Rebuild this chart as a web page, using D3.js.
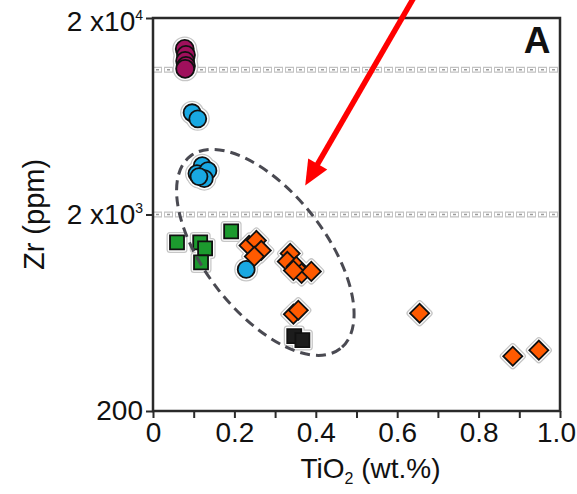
<!DOCTYPE html>
<html><head><meta charset="utf-8">
<script src="https://cdn.jsdelivr.net/npm/d3@7"></script>
<style>
body{margin:0;background:#fff}
svg{display:block;font-family:"Liberation Sans",Arial,Helvetica,sans-serif}
</style>
</head><body>
<svg id="chart" width="577" height="494"></svg>
<script>
// ---- data (TiO2 wt.% vs Zr ppm) ----
const magentaX = [0.078, 0.081, 0.079, 0.081, 0.079];
const magentaY = [13920, 12980, 12090, 11410, 11020];
const blueX = [0.096, 0.110, 0.121, 0.108, 0.135, 0.126, 0.113, 0.229];
const blueY = [6590, 6140, 3546, 3229, 3344, 3045, 3118, 1051];
const greenX = [0.059, 0.116, 0.128, 0.118, 0.192];
const greenY = [1442, 1442, 1344, 1141, 1640];
const blackX = [0.347, 0.367];
const blackY = [481, 459];
const orangeX = [0.236, 0.254, 0.266, 0.249, 0.337, 0.330, 0.352, 0.365, 0.389, 0.345, 0.345, 0.357, 0.655, 0.884, 0.948];
const orangeY = [1392, 1476, 1313, 1224, 1268, 1154, 1089, 1003, 1027, 1039, 622, 651, 629, 380, 408];
const refLines = [10900, 2000];
const xTicks = [0, 0.1, 0.2, 0.3, 0.4, 0.5, 0.6, 0.7, 0.8, 0.9, 1.0];
const xTickLabels = ["0", "", "0.2", "", "0.4", "", "0.6", "", "0.8", "", "1.0"];
const yTicks = [200, 2000, 20000];
const yTickBase = ["200", "2 x10", "2 x10"];
const yTickSup = ["", "3", "4"];
const ellipseCenter = [0.276, 1283];
const arrowFrom = [0.643, 25860];
const arrowTo = [0.374, 2806];
const panelLabel = "A";

// ---- layout ----
const W = 577, H = 494;
const m = {left: 153, top: 18, right: 17, bottom: 83};
const svg = d3.select("#chart");
const x = d3.scaleLinear().domain([0, 1]).range([m.left, W - m.right]);
const y = d3.scaleLog().domain([200, 20000]).range([H - m.bottom, m.top]);

// reference chain lines
refLines.forEach(v => {
  const g = svg.append("g");
  const yy = y(v);
  g.append("line").attr("x1", x(0)).attr("x2", x(1)).attr("y1", yy).attr("y2", yy)
    .attr("stroke", "#c2c2c2").attr("stroke-width", 6).attr("stroke-dasharray", "9 2");
  g.append("line").attr("x1", x(0)).attr("x2", x(1)).attr("y1", yy).attr("y2", yy)
    .attr("stroke", "#fff").attr("stroke-width", 3.5).attr("stroke-dasharray", "7 4").attr("stroke-dashoffset", -1);
  g.append("line").attr("x1", x(0)).attr("x2", x(1)).attr("y1", yy).attr("y2", yy)
    .attr("stroke", "#9a9a9a").attr("stroke-width", 1.6).attr("stroke-dasharray", "3 8").attr("stroke-dashoffset", -3);
});

// groups
const groups = [
  {xs: magentaX, ys: magentaY, shape: "circle", size: 9, fill: "#a0105c"},
  {xs: greenX, ys: greenY, shape: "square", size: 14, fill: "#1c9a2e"},
  {xs: blackX, ys: blackY, shape: "square", size: 14, fill: "#1c1c1c"},
  {xs: blueX, ys: blueY, shape: "circle", size: 8.5, fill: "#19a8e2"},
  {xs: orangeX, ys: orangeY, shape: "diamond", size: 13.5, fill: "#ff5a00"}
];
function pathFor(g) {
  if (g.shape === "circle") return d3.symbol(d3.symbolCircle, Math.PI * g.size * g.size)();
  return d3.symbol(d3.symbolSquare, g.size * g.size)();
}
function rot(g) { return g.shape === "diamond" ? " rotate(45)" : ""; }

const halo1 = svg.append("g"), halo2 = svg.append("g"), marks = svg.append("g");
groups.forEach(g => {
  const pts = g.xs.map((v, i) => [v, g.ys[i]]);
  const p = pathFor(g);
  halo1.selectAll(null).data(pts).enter().append("path").attr("d", p)
    .attr("transform", d => `translate(${x(d[0])},${y(d[1])})${rot(g)}`)
    .attr("fill", "#c6c6c6").attr("stroke", "#c6c6c6").attr("stroke-width", 7).attr("stroke-linejoin", "round");
});
groups.forEach(g => {
  const pts = g.xs.map((v, i) => [v, g.ys[i]]);
  const p = pathFor(g);
  halo2.selectAll(null).data(pts).enter().append("path").attr("d", p)
    .attr("transform", d => `translate(${x(d[0])},${y(d[1])})${rot(g)}`)
    .attr("fill", "#fff").attr("stroke", "#fff").attr("stroke-width", 4.5).attr("stroke-linejoin", "round");
});
groups.forEach(g => {
  const pts = g.xs.map((v, i) => [v, g.ys[i]]);
  const p = pathFor(g);
  marks.selectAll(null).data(pts).enter().append("path").attr("d", p)
    .attr("transform", d => `translate(${x(d[0])},${y(d[1])})${rot(g)}`)
    .attr("fill", g.fill).attr("stroke", "#111").attr("stroke-width", 1.8);
});

// dashed ellipse
svg.append("ellipse")
  .attr("transform", `translate(${x(ellipseCenter[0])},${y(ellipseCenter[1])}) rotate(52)`)
  .attr("rx", 122).attr("ry", 60)
  .attr("fill", "none").attr("stroke", "#4a4a52").attr("stroke-width", 3).attr("stroke-dasharray", "10 6");

// frame
svg.append("rect").attr("x", x(0)).attr("y", y(20000)).attr("width", x(1) - x(0)).attr("height", y(200) - y(20000))
  .attr("fill", "none").attr("stroke", "#2a2a2a").attr("stroke-width", 2.5);

// axes
const xAxis = svg.append("g").attr("transform", `translate(0,${y(200)})`)
  .call(d3.axisBottom(x).tickValues(xTicks).tickSize(7).tickPadding(4).tickFormat((d, i) => xTickLabels[i]));
xAxis.select(".domain").remove();
xAxis.selectAll("line").attr("stroke", "#2a2a2a").attr("stroke-width", 2);
xAxis.selectAll("text").attr("font-size", 28).attr("fill", "#111").attr("font-family", "Liberation Sans, Arial, sans-serif")
  .attr("dx", (d, i) => i === xTicks.length - 1 ? -4 : 0);

const yAxis = svg.append("g").attr("transform", `translate(${x(0)},0)`)
  .call(d3.axisLeft(y).tickValues(yTicks).tickSize(7).tickPadding(3).tickFormat(() => ""));
yAxis.select(".domain").remove();
yAxis.selectAll("line").attr("stroke", "#2a2a2a").attr("stroke-width", 2);
yAxis.selectAll(".tick text").each(function(d, i) {
  const t = d3.select(this).attr("font-size", 28).attr("fill", "#111")
    .attr("font-family", "Liberation Sans, Arial, sans-serif");
  if (i === 2) t.attr("dy", "0.45em");
  t.append("tspan").text(yTickBase[i]);
  if (yTickSup[i]) t.append("tspan").attr("font-size", 14).attr("dy", "-0.8em").text(yTickSup[i]);
});

// axis titles
const xt = svg.append("text").attr("x", (x(0) + x(1)) / 2 + 14).attr("y", 478)
  .attr("text-anchor", "middle").attr("font-size", 28).attr("fill", "#111");
xt.append("tspan").text("TiO");
xt.append("tspan").attr("font-size", 16).attr("dy", 6).text("2");
xt.append("tspan").attr("dy", -6).text(" (wt.%)");

svg.append("text").attr("transform", `translate(44,${y(2000)}) rotate(-90)`)
  .attr("text-anchor", "middle").attr("font-size", 29).attr("fill", "#111").text("Zr (ppm)");

// panel label
svg.append("text").attr("x", 537).attr("y", 53).attr("text-anchor", "middle")
  .attr("font-size", 37).attr("font-weight", "bold").attr("fill", "#111").text(panelLabel);

// red arrow
const ax0 = x(arrowFrom[0]), ay0 = y(arrowFrom[1]), ax1 = x(arrowTo[0]), ay1 = y(arrowTo[1]);
const len = Math.hypot(ax1 - ax0, ay1 - ay0), ux = (ax1 - ax0) / len, uy = (ay1 - ay0) / len;
const headL = 25, headW = 11;
const bx = ax1 - ux * headL, by = ay1 - uy * headL;
svg.append("line").attr("x1", ax0).attr("y1", ay0).attr("x2", bx + ux * 2).attr("y2", by + uy * 2)
  .attr("stroke", "#ff0000").attr("stroke-width", 5.5);
svg.append("path").attr("d", `M${ax1},${ay1} L${bx - uy * headW},${by + ux * headW} L${bx + uy * headW},${by - ux * headW} Z`)
  .attr("fill", "#ff0000");
</script>
</body></html>
